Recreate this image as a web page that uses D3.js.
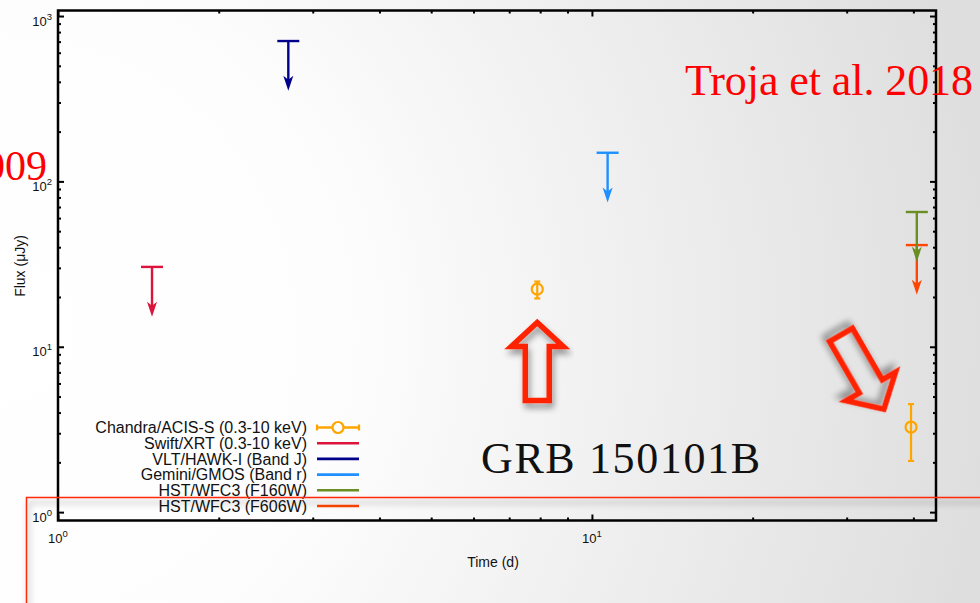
<!DOCTYPE html>
<html>
<head>
<meta charset="utf-8">
<script src="https://cdn.jsdelivr.net/npm/d3@7"></script>
<style>
  body { margin: 0; background: #fff; }
  svg { display: block; }
</style>
</head>
<body>
<div id="chart"></div>
<script>
// Chandra/ACIS-S detections (days, uJy)
const chandraTime = [7.9, 39.6];
const chandraFlux = [22.3, 3.27];
const chandraHigh = [24.8, 4.5];
const chandraLow = [19.6, 2.04];

// upper limits, drawn F606W before F160W so the green one sits on top
const limitNames = ["Swift/XRT", "VLT/HAWK-I", "Gemini/GMOS", "HST/WFC3 (F606W)", "HST/WFC3 (F160W)"];
const limitTime = [1.5, 2.7, 10.7, 40.6, 40.6];
const limitFlux = [30.4, 706, 149, 41.2, 65.3];
const limitColors = ["#dc143c", "#00008b", "#1e90ff", "#ff4500", "#6b8e23"];

const legendLabels = ["Chandra/ACIS-S (0.3-10 keV)", "Swift/XRT (0.3-10 keV)", "VLT/HAWK-I (Band J)",
  "Gemini/GMOS (Band r)", "HST/WFC3 (F160W)", "HST/WFC3 (F606W)"];
const legendColors = ["#ffa500", "#dc143c", "#00008b", "#1e90ff", "#6b8e23", "#ff4500"];

const xMajor = [1, 10];
const xMajorExp = ["0", "1"];
const yMajor = [1, 10, 100, 1000];
const yMajorExp = ["0", "1", "2", "3"];

//d3 v7 has no .attrs() without the multi plugin, so a tiny stand-in
d3.selection.prototype.attrs = function(obj) {
  for (let k in obj) this.attr(k, obj[k]);
  return this;
};

const W = 980, H = 603;
const plotL = 58, plotR = 936, plotT = 10.5, plotB = 520.5;

let svg = d3.select("#chart")
  .append("svg")
    .attr("width", W)
    .attr("height", H)
    .attr("font-family", "'Liberation Sans', Arial, Helvetica, sans-serif")
;

let defs = svg.append("defs");

// slide background, white on the left fading to grey on the right
let bg = defs.append("radialGradient")
  .attrs({ id: "bg", gradientUnits: "userSpaceOnUse", cx: 0, cy: 330, r: 1000 });
bg.append("stop").attrs({ offset: 0, "stop-color": "#ffffff" });
bg.append("stop").attrs({ offset: 0.35, "stop-color": "#fdfdfd" });
bg.append("stop").attrs({ offset: 1, "stop-color": "#dedede" });

let shadow = defs.append("filter")
  .attrs({ id: "shadow", x: "-20%", y: "-20%", width: "140%", height: "140%" });
shadow.append("feGaussianBlur").attrs({ in: "SourceAlpha", stdDeviation: 3, result: "blur" });
shadow.append("feOffset").attrs({ in: "blur", dx: 2, dy: 5, result: "off" });
shadow.append("feComponentTransfer").attrs({ in: "off", result: "soft" })
  .append("feFuncA").attrs({ type: "linear", slope: 0.4 });
let merge = shadow.append("feMerge");
merge.append("feMergeNode").attr("in", "soft");
merge.append("feMergeNode").attr("in", "SourceGraphic");

svg.append("rect").attrs({ x: 0, y: 0, width: W, height: H, fill: "url(#bg)" });

let x = d3.scaleLog().domain([1, 44.1]).range([plotL, plotR]);
let y = d3.scaleLog().domain([0.89, 1080]).range([plotB, plotT]);

let xMinor = x.ticks().filter(d => xMajor.indexOf(d) < 0 && d > 1);
let yMinor = y.ticks().filter(d => yMajor.indexOf(d) < 0 && d > 1);

//ticks on all four sides, pointing inwards
function tickStyle(g) {
  g.select(".domain").remove();
  g.selectAll(".tick line").attr("stroke", "#000").attr("stroke-width", 2);
}

svg.append("g").attr("transform", `translate(0,${plotB})`)
  .call(d3.axisBottom(x).tickValues(xMajor).tickSize(-6).tickFormat("")).call(tickStyle);
svg.append("g").attr("transform", `translate(0,${plotB})`)
  .call(d3.axisBottom(x).tickValues(xMinor).tickSize(-3).tickFormat("")).call(tickStyle);
svg.append("g").attr("transform", `translate(0,${plotT})`)
  .call(d3.axisTop(x).tickValues(xMajor).tickSize(-6).tickFormat("")).call(tickStyle);
svg.append("g").attr("transform", `translate(0,${plotT})`)
  .call(d3.axisTop(x).tickValues(xMinor).tickSize(-3).tickFormat("")).call(tickStyle);
svg.append("g").attr("transform", `translate(${plotL},0)`)
  .call(d3.axisLeft(y).tickValues(yMajor).tickSize(-6).tickFormat("")).call(tickStyle);
svg.append("g").attr("transform", `translate(${plotL},0)`)
  .call(d3.axisLeft(y).tickValues(yMinor).tickSize(-3).tickFormat("")).call(tickStyle);
svg.append("g").attr("transform", `translate(${plotR},0)`)
  .call(d3.axisRight(y).tickValues(yMajor).tickSize(-6).tickFormat("")).call(tickStyle);
svg.append("g").attr("transform", `translate(${plotR},0)`)
  .call(d3.axisRight(y).tickValues(yMinor).tickSize(-3).tickFormat("")).call(tickStyle);

svg.append("rect")
  .attrs({ x: plotL, y: plotT, width: plotR - plotL, height: plotB - plotT, fill: "none", stroke: "#000" })
  .attr("stroke-width", 2.5);

// tick labels as 10^n
let xl = svg.selectAll(".xlab").data(xMajor).enter()
  .append("text")
    .attr("class", "xlab")
    .attrs({ x: d => x(d), y: 543, "text-anchor": "middle", "font-size": 13, fill: "#111" });
xl.append("tspan").text("10");
xl.append("tspan").attr("dy", -6).attr("font-size", 9.5).text((d, i) => xMajorExp[i]);

let yl = svg.selectAll(".ylab").data(yMajor).enter()
  .append("text")
    .attr("class", "ylab")
    .attrs({ x: 52, y: d => y(d) + 9.5, "text-anchor": "end", "font-size": 13, fill: "#111" });
yl.append("tspan").text("10");
yl.append("tspan").attr("dy", -6).attr("font-size", 9.5).text((d, i) => yMajorExp[i]);

svg.append("text")
  .attrs({ x: 493, y: 567, "text-anchor": "middle", "font-size": 14, fill: "#111" })
  .text("Time (d)");
svg.append("text")
  .attrs({ transform: "translate(25,266) rotate(-90)", "text-anchor": "middle", "font-size": 14, fill: "#111" })
  .text("Flux (\u03bcJy)");

// upper limits: bar at the limit, arrow down by a factor 2
let limits = svg.selectAll(".limit").data(limitTime).enter()
  .append("g")
    .attr("class", "limit")
    .attr("stroke", (d, i) => limitColors[i])
    .attr("fill", (d, i) => limitColors[i]);

limits.append("line")
  .attrs({ x1: d => x(d) - 11, x2: d => x(d) + 11, y1: (d, i) => y(limitFlux[i]), y2: (d, i) => y(limitFlux[i]) })
  .attr("stroke-width", 2.4);
limits.append("line")
  .attrs({ x1: d => x(d), x2: d => x(d), y1: (d, i) => y(limitFlux[i]), y2: (d, i) => y(limitFlux[i] / 2) - 8 })
  .attr("stroke-width", 2.4);
limits.append("path")
  .attr("stroke", "none")
  .attr("d", (d, i) => {
    let cx = x(d), tip = y(limitFlux[i] / 2);
    return `M${cx - 5},${tip - 15}L${cx},${tip - 11}L${cx + 5},${tip - 15}L${cx},${tip}Z`;
  });

// Chandra detections with error bars
let det = svg.selectAll(".det").data(chandraTime).enter()
  .append("g")
    .attr("class", "det")
    .attr("stroke", "#ffa500")
    .attr("stroke-width", 2.2)
    .attr("fill", "none");

det.append("line")
  .attrs({ x1: d => x(d), x2: d => x(d), y1: (d, i) => y(chandraHigh[i]), y2: (d, i) => y(chandraLow[i]) });
det.append("line")
  .attrs({ x1: d => x(d) - 3, x2: d => x(d) + 3, y1: (d, i) => y(chandraHigh[i]), y2: (d, i) => y(chandraHigh[i]) });
det.append("line")
  .attrs({ x1: d => x(d) - 3, x2: d => x(d) + 3, y1: (d, i) => y(chandraLow[i]), y2: (d, i) => y(chandraLow[i]) });
det.append("circle")
  .attrs({ cx: d => x(d), cy: (d, i) => y(chandraFlux[i]), r: 5.5 });

// legend, text right aligned with a line sample
let key = svg.selectAll(".key").data(legendLabels).enter()
  .append("g")
    .attr("class", "key")
    .attr("transform", (d, i) => `translate(0,${427.5 + i * 15.7})`);

key.append("text")
  .attrs({ x: 307, y: 5.8, "text-anchor": "end", "font-size": 16, fill: "#111" })
  .text(d => d);
key.append("line")
  .attrs({ x1: 317, x2: 359, y1: 0, y2: 0, stroke: (d, i) => legendColors[i] })
  .attr("stroke-width", 2.6);

let chKey = svg.select(".key").append("g").attr("stroke", "#ffa500").attr("stroke-width", 2.2).attr("fill", "none");
chKey.append("line").attrs({ x1: 317, x2: 317, y1: -3, y2: 3 });
chKey.append("line").attrs({ x1: 359, x2: 359, y1: -3, y2: 3 });
chKey.append("circle").attrs({ cx: 338, cy: 0, r: 5.5, fill: "#fff" });

// slide annotations
function hollowArrow(tx, ty, angle, k) {
  svg.append("path")
    .attr("transform", `translate(${tx},${ty}) rotate(${angle}) scale(${k})`)
    .attr("d", "M0,2L26,26L12,26L12,80L-12,80L-12,26L-26,26Z")
    .attrs({ fill: "none", stroke: "#ff2200", "stroke-linejoin": "miter", filter: "url(#shadow)" })
    .attr("stroke-width", 5.5 / k);
}
hollowArrow(x(chandraTime[0]), y(chandraLow[0]) + 22, 0, 1);
hollowArrow(x(chandraTime[1]) - 26, y(chandraHigh[1]) + 7, 150, 1.1);

svg.append("text")
  .attrs({ x: 685, y: 95, "font-size": 44, fill: "#ff0000", textLength: 288 })
  .attr("font-family", "'Liberation Serif', 'Times New Roman', serif")
  .text("Troja et al. 2018");

svg.append("text")
  .attrs({ x: 47, y: 180, "font-size": 42, fill: "#ff0000", "text-anchor": "end" })
  .attr("font-family", "'Liberation Serif', 'Times New Roman', serif")
  .text("009");

svg.append("text")
  .attrs({ x: 481, y: 473, "font-size": 44, fill: "#111", textLength: 279 })
  .attr("font-family", "'Liberation Serif', 'Times New Roman', serif")
  .text("GRB 150101B");

svg.append("rect")
  .attrs({ x: 26.5, y: 497.5, width: 980, height: 200, fill: "none", stroke: "#ff2a10", filter: "url(#shadow)" })
  .attr("stroke-width", 1.5);
</script>
</body>
</html>
